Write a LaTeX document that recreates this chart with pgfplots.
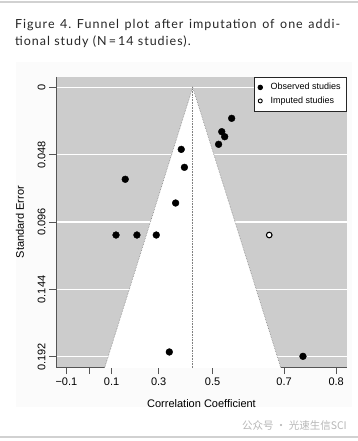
\documentclass[border=0pt]{standalone}
\usepackage{pgfplots}
\pgfplotsset{compat=1.18}
\usepackage{fontspec}
\setmainfont{Liberation Sans}
\newfontfamily\capfont[LetterSpace=8]{Lato}
\newfontfamily\cjk{Noto Sans CJK SC}
\definecolor{panel}{HTML}{CCCCCC}
\definecolor{axcol}{HTML}{555555}
\frenchspacing
\begin{document}
\begin{tikzpicture}
\path[use as bounding box] (0pt,0pt) rectangle (358pt,441pt);
\fill[white] (0pt,0pt) rectangle (358pt,441pt);
\fill[black!1.5] (16pt,34pt) rectangle (352pt,379pt);
\draw[black!18, line width=1.5pt] (0pt,439pt) -- (358pt,439pt);
\draw[black!18, line width=1.5pt] (0pt,4pt) -- (358pt,4pt);
\node[anchor=base west, inner sep=0, text=black!85] at (15pt,412pt) {\capfont\fontsize{12.5}{14}\selectfont\makebox[325pt][s]{Figure 4. Funnel plot after imputation of one addi-}};
\node[anchor=base west, inner sep=0, text=black!85] at (15pt,395pt) {\capfont\fontsize{12.5}{14}\selectfont tional study (N\,=\,14 studies).};
\begin{axis}[at={(201.5pt,219pt)}, anchor=center, scale only axis, width=291pt, height=290pt,
  xmin=-0.1467, xmax=1.1467, ymin=-0.00734, ymax=0.1992, y dir=reverse,
  axis background/.style={fill=panel},
  axis x line*=bottom, axis y line*=left,
  axis line style={axcol, line width=1pt},
  tick align=outside, major tick length=7pt,
  tick style={axcol, line width=0.8pt},
  xtick={-0.10034,0,0.10034,0.30952,0.54931,0.86730,1.09861},
  xticklabels={−0.1,,0.1,0.3,0.5,0.7,0.8},
  ytick={0,0.048,0.096,0.144,0.192},
  yticklabels={0,0.048,0.096,0.144,0.192},
  xticklabel style={font=\fontsize{11}{13}\selectfont},
  yticklabel style={font=\fontsize{11}{13}\selectfont, rotate=90, anchor=south},
  ymajorgrids, major grid style={white, line width=1.2pt},
  legend image code/.code={\draw[#1] plot coordinates {(0pt,0pt)};},
  legend style={at={(1,1)}, anchor=north east, draw=black!85, line width=0.8pt,
    font=\fontsize{9}{10.5}\selectfont, fill=white, row sep=1.5pt,
    inner xsep=4pt, inner ysep=4pt,
    /tikz/every odd column/.append style={column sep=6pt}},
  legend cell align=left,
  clip=true,
]
\addplot[fill=white, draw=none, forget plot] coordinates {(0.0494,0.21) (0.461,0) (0.8726,0.21)} -- cycle;
\addplot[densely dotted, black!50, line width=0.6pt, forget plot] coordinates {(0.0494,0.21) (0.461,0) (0.8726,0.21)};
\addplot[densely dotted, black!50, line width=0.6pt, forget plot] coordinates {(0.461,0) (0.461,0.21)};
\addplot[only marks, mark=*, mark size=3.4pt, black, legend image post style={mark size=2.3pt}] coordinates {
(0.634,0.0221) (0.590,0.0316) (0.603,0.0352) (0.576,0.0406) (0.410,0.0442)
(0.424,0.0570) (0.161,0.0655) (0.385,0.0824) (0.120,0.1052) (0.213,0.1052)
(0.299,0.1052) (0.357,0.1885) (0.951,0.1916)};
\addlegendentry{Observed studies}
\addplot[only marks, mark=*, mark size=2.8pt, draw=black, fill=white, line width=1.1pt, legend image post style={mark size=2pt, line width=0.9pt}] coordinates {(0.801,0.1052)};
\addlegendentry{Imputed studies}
\end{axis}
\node[font=\fontsize{11}{13}\selectfont] at (201.5pt,37pt) {Correlation Coefficient};
\node[font=\fontsize{11}{13}\selectfont, rotate=90] at (20pt,219pt) {Standard Error};
\node[anchor=base east, inner sep=0, text=black!28] at (347pt,11pt) {\cjk\fontsize{10.5}{12}\selectfont 公众号 · 光速生信SCI};
\end{tikzpicture}
\end{document}
